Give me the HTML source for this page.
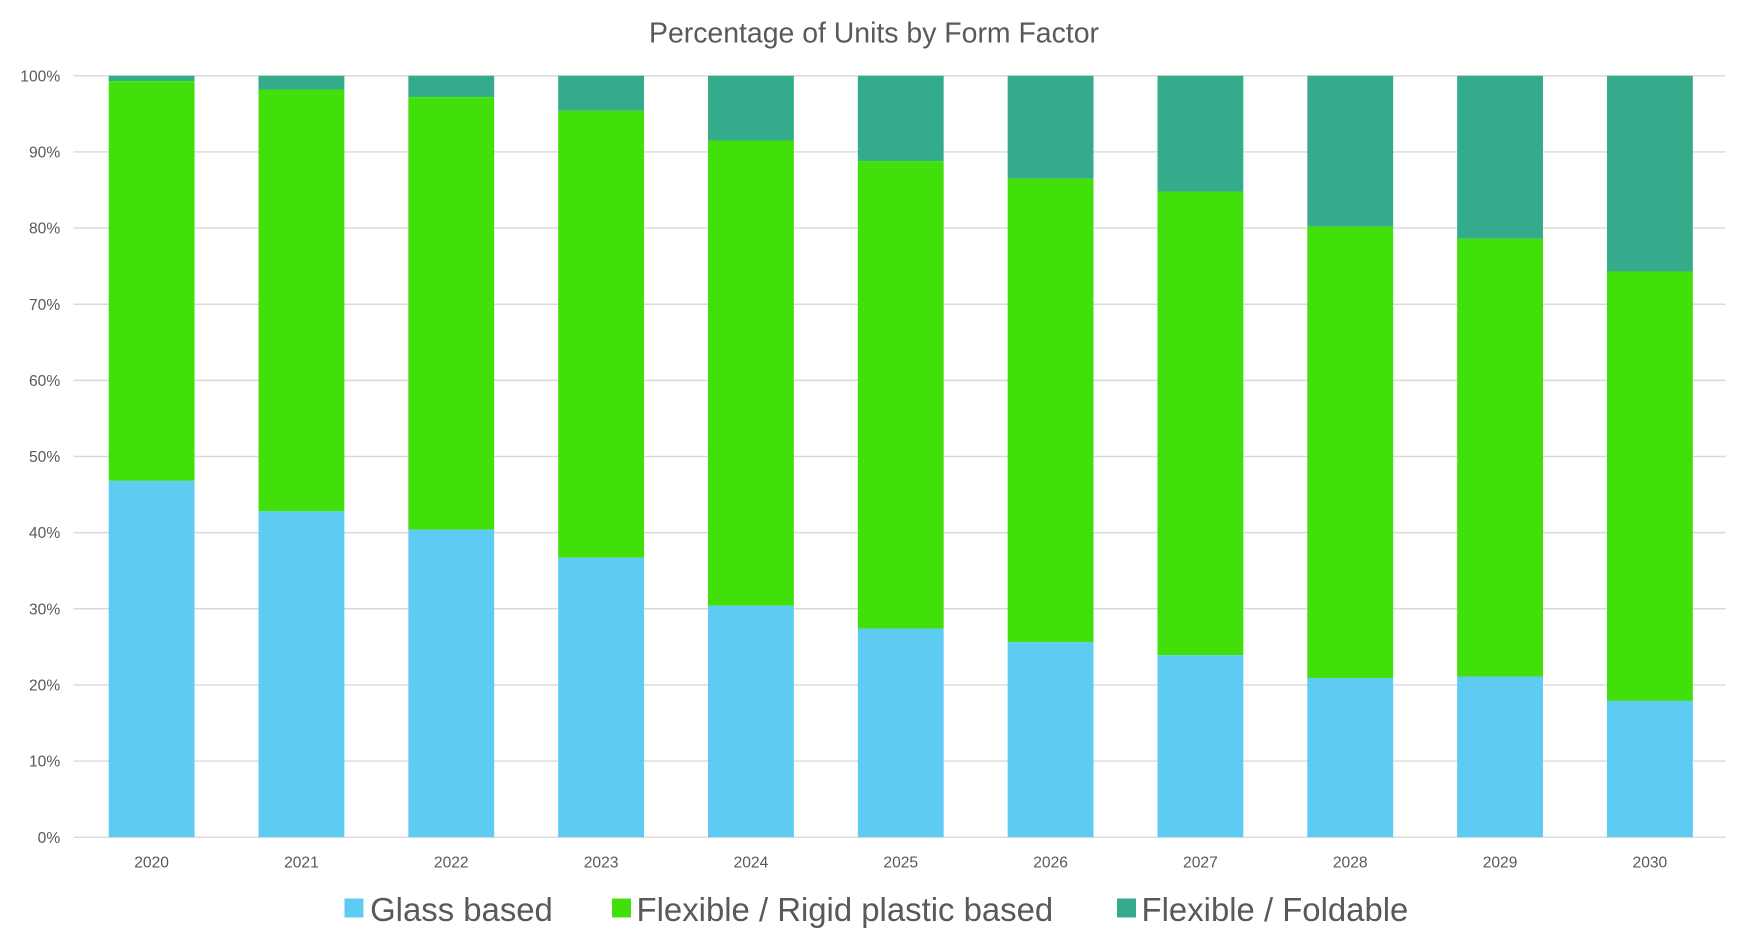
<!DOCTYPE html>
<html><head><meta charset="utf-8"><style>html,body{margin:0;padding:0;background:#fff}svg{display:block}</style></head>
<body>
<svg width="1748" height="947" viewBox="0 0 1568 849.5" preserveAspectRatio="none" xmlns="http://www.w3.org/2000/svg" font-family="Liberation Sans, sans-serif">
<rect width="1568" height="849.5" fill="#fff"/>
<text x="784" y="38" text-anchor="middle" font-size="25.5" fill="#595959">Percentage of Units by Form Factor</text>
<g id="grid" stroke="#d9d9d9" stroke-width="1.3"></g>
<g id="ylab" font-size="14" fill="#595959" text-anchor="end"></g>
<g id="bars"></g>
<g id="xlab" font-size="14" fill="#595959" text-anchor="middle"></g>
<g font-size="29.5" fill="#595959">
<rect x="309" y="806" width="17" height="17" fill="#5ecbf3"/><text x="332" y="826">Glass based</text>
<rect x="549" y="806" width="17" height="17" fill="#42e00a"/><text x="571" y="826">Flexible / Rigid plastic based</text>
<rect x="1002" y="806" width="17" height="17" fill="#34ab8b"/><text x="1024" y="826">Flexible / Foldable</text>
</g>
<script>
const ns="http://www.w3.org/2000/svg";
const y0=751,y1=68,h=y0-y1;const Y=v=>y0-v/100*h;
const g=document.getElementById('grid'),yl=document.getElementById('ylab'),b=document.getElementById('bars'),xl=document.getElementById('xlab');
function el(p,t,a,txt){const e=document.createElementNS(ns,t);for(const k in a)e.setAttribute(k,a[k]);if(txt)e.textContent=txt;p.appendChild(e);return e;}
for(let i=0;i<=10;i++){const y=Y(i*10);el(g,'line',{x1:66,x2:1548,y1:y,y2:y});el(yl,'text',{x:54,y:y+5},i*10+'%');}
const d=[[46.8,99.3],[42.8,98.2],[40.4,97.2],[36.7,95.4],[30.4,91.5],[27.4,88.8],[25.6,86.5],[23.9,84.8],[20.9,80.2],[21.1,78.6],[17.9,74.3]];
d.forEach((v,i)=>{const cx=136+i*134.4,x=cx-38.5,w=77;
el(b,'rect',{x:x,y:Y(100),width:w,height:Y(v[1])-Y(100),fill:'#34ab8b'});
el(b,'rect',{x:x,y:Y(v[1]),width:w,height:Y(v[0])-Y(v[1]),fill:'#42e00a'});
el(b,'rect',{x:x,y:Y(v[0]),width:w,height:y0-Y(v[0]),fill:'#5ecbf3'});
el(xl,'text',{x:cx,y:778},String(2020+i));});
</script>
</svg>
</body></html>
